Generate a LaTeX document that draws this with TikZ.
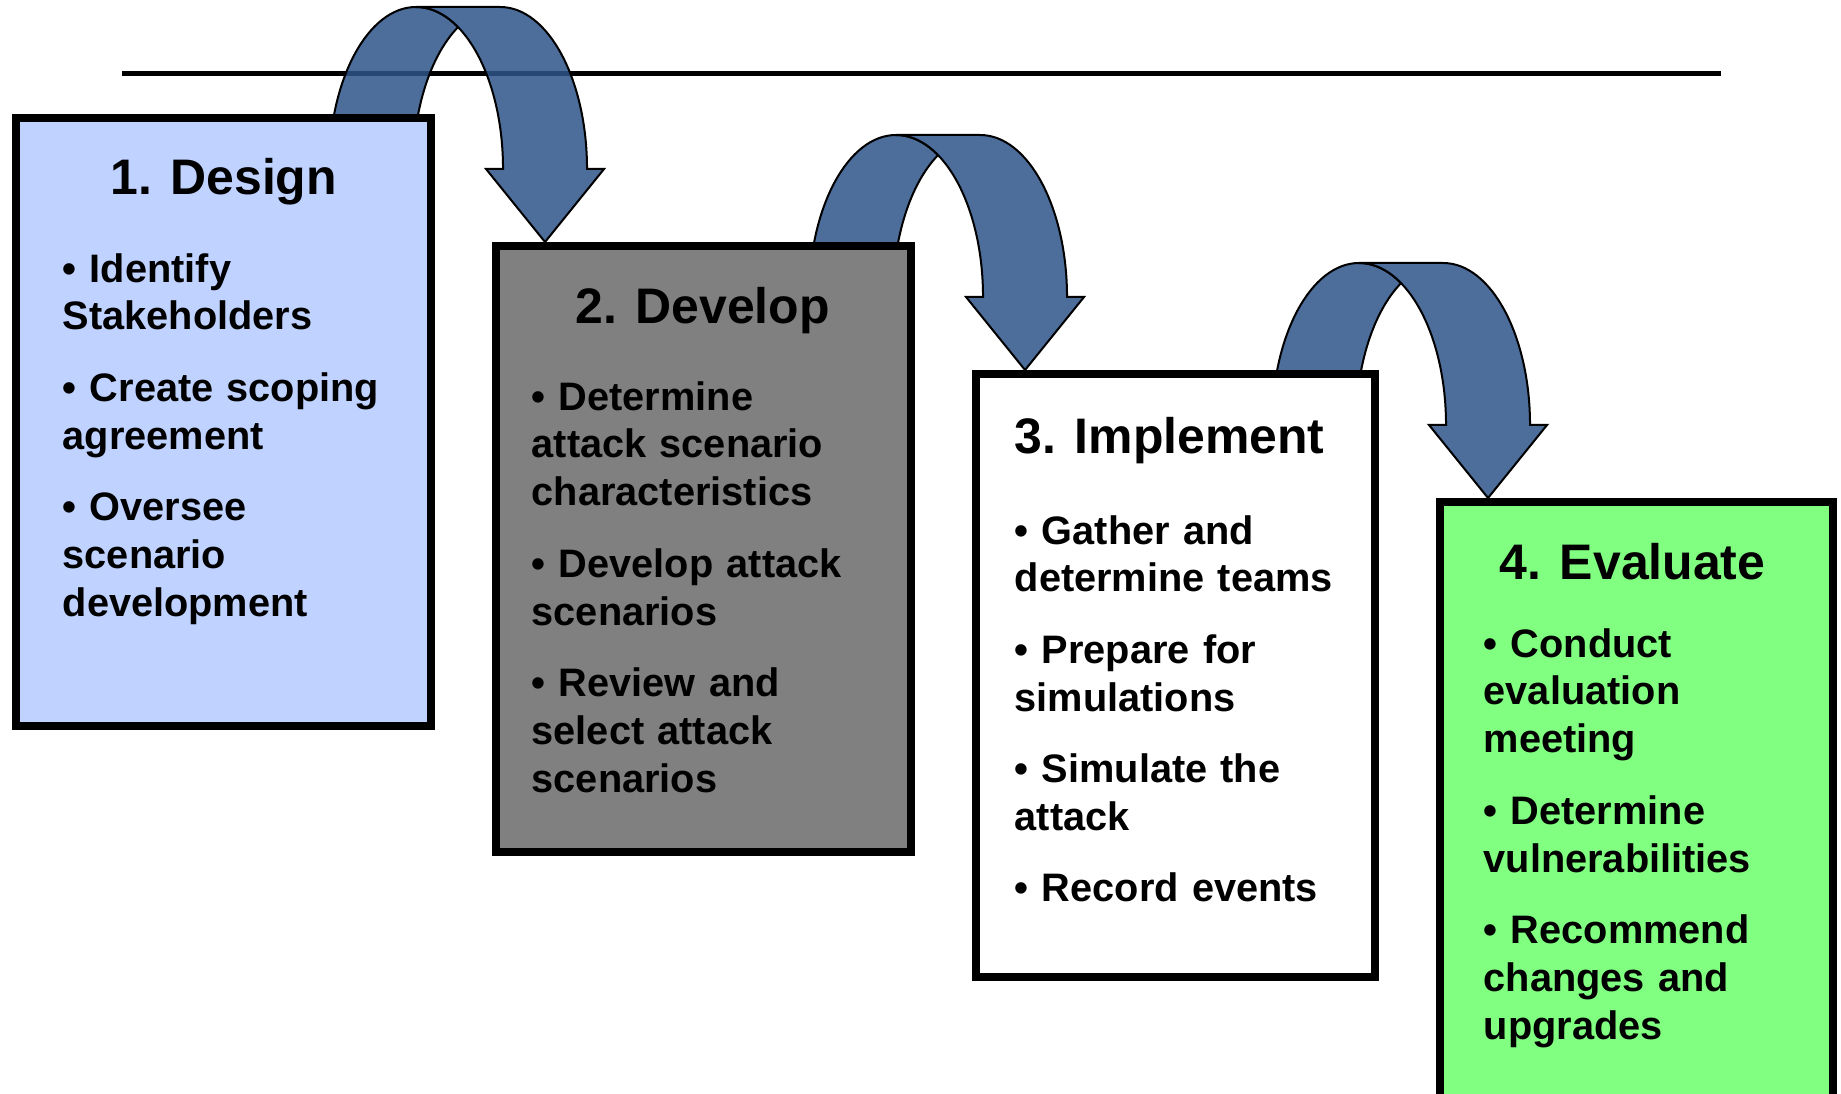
\documentclass[tikz,border=0pt]{standalone}
\usepackage{fontspec}
\setmainfont{Liberation Sans}
\usetikzlibrary{backgrounds}

\definecolor{designblue}{RGB}{192,210,255}
\definecolor{developgray}{RGB}{128,128,128}
\definecolor{evalgreen}{RGB}{128,255,128}
\definecolor{arrowblue}{RGB}{46,84,138}

\tikzset{
  stepbox/.style={draw=black, line width=0.08cm, rectangle,
    inner sep=0pt, anchor=north west},
  steptitle/.style={anchor=base, inner sep=0pt,
    font=\fontsize{14.2}{17}\selectfont\bfseries},
  steptext/.style={anchor=base west, inner sep=0pt, text width=3.6cm,
    align=left, font=\fontsize{11.3}{13.6}\selectfont\bfseries},
  bandfill/.style={fill=arrowblue, fill opacity=0.85, draw=black,
    line width=0.02cm}
}

\newcommand{\itemgap}{\\[0.236cm]}
% curved arrow, tip put on the top of the next box
\newcommand{\steparrow}[1]{%
  \begin{scope}[shift={(#1)}]
    % part of the band behind the fold
    \path[bandfill] (-216,73)
      arc[start angle=180, end angle=61.13, x radius=87, y radius=162]
      arc[start angle=118.87, end angle=180, x radius=87, y radius=162]
      -- cycle;
    % front part with the head
    \path[bandfill] (-129,235) -- (-45,235)
      arc[start angle=90, end angle=0, x radius=87, y radius=162]
      -- (59,73) -- (0,0) -- (-59,73) -- (-42,73)
      arc[start angle=0, end angle=90, x radius=87, y radius=162]
      -- cycle;
  \end{scope}}

\begin{document}
\begin{tikzpicture}[x=0.01cm, y=0.01cm]
  \useasboundingbox (0,0) rectangle (1841,1093);
  \clip (0,0) rectangle (1841,1093);

  \node[stepbox, fill=designblue, minimum width=4.15cm, minimum height=6.08cm]
    (design) at (12,979) {};
  \node[stepbox, fill=developgray, minimum width=4.15cm, minimum height=6.06cm]
    (develop) at (492,851) {};
  \node[stepbox, fill=white, minimum width=3.99cm, minimum height=6.03cm]
    (implement) at (972,723) {};
  \node[stepbox, fill=evalgreen, minimum width=3.93cm, minimum height=6.04cm]
    (evaluate) at (1436,595) {};

  \node[steptitle] (design-title) at ([yshift=-0.80cm]design.north) {1. Design};
  \node[steptitle] (develop-title) at ([xshift=-0.01cm, yshift=-0.81cm]develop.north) {2. Develop};
  \node[steptitle] (implement-title) at ([xshift=-0.06cm, yshift=-0.83cm]implement.north) {3. Implement};
  \node[steptitle] (evaluate-title) at ([xshift=-0.04cm, yshift=-0.81cm]evaluate.north) {4. Evaluate};

  \node[steptext] (design-text) at ([xshift=0.50cm, yshift=-1.68cm]design.north west)
    {• Identify\\Stakeholders\itemgap
     • Create scoping\\agreement\itemgap
     • Oversee\\scenario\\development};
  \node[steptext] (develop-text) at ([xshift=0.39cm, yshift=-1.68cm]develop.north west)
    {• Determine\\attack scenario\\characteristics\itemgap
     • Develop attack\\scenarios\itemgap
     • Review and\\select attack\\scenarios};
  \node[steptext] (implement-text) at ([xshift=0.42cm, yshift=-1.74cm]implement.north west)
    {• Gather and\\determine teams\itemgap
     • Prepare for\\simulations\itemgap
     • Simulate the\\attack\itemgap
     • Record events};
  \node[steptext] (evaluate-text) at ([xshift=0.47cm, yshift=-1.59cm]evaluate.north west)
    {• Conduct\\evaluation\\meeting\itemgap
     • Determine\\vulnerabilities\itemgap
     • Recommend\\changes and\\upgrades};

  \coordinate (tip12) at ([xshift=0.53cm]develop.north west);
  \coordinate (tip23) at ([xshift=0.53cm]implement.north west);
  \coordinate (tip34) at ([xshift=0.52cm]evaluate.north west);

  \begin{pgfonlayer}{background}
    \coordinate (rule-l) at (122,1019);
    \coordinate (rule-r) at (1721,1019);
    \draw[line width=0.05cm] (rule-l) -- (rule-r);
    \foreach \t in {tip12,tip23,tip34}
      \steparrow{\t};
  \end{pgfonlayer}
\end{tikzpicture}
\end{document}
